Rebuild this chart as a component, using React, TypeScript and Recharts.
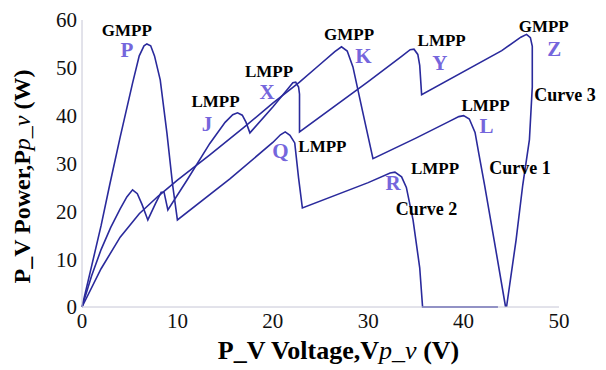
import {
  ComposedChart,
  Line,
  Scatter,
  XAxis,
  YAxis,
} from "recharts";

// [voltage, power] points
const curve1: [number, number][] = [
  [0, 0], [2, 8], [4, 14.6], [6, 19.5], [8, 23.2], [10, 26.5], [13.4, 31.8],
  [17, 37.6], [20, 42.6], [22.8, 47], [25, 50.8], [26.5, 53.4], [27.2, 54.4],
  [27.8, 53.5], [28.4, 50.2], [29.4, 41], [30.5, 31], [35, 35.3], [38.5, 38.8],
  [39.5, 39.8], [40, 40], [40.6, 39.3], [41.2, 36.5], [41.6, 32], [42.2, 25.5],
  [43.2, 14], [44.4, 0],
];

const curve2: [number, number][] = [
  [0, 0], [1, 8.5], [2, 17], [2.9, 25.5], [4, 35.5], [5.3, 46.8], [6, 52.5],
  [6.5, 54.6], [6.8, 55], [7.2, 54.6], [7.6, 52.5], [8.2, 47.5], [8.9, 36.4],
  [9.5, 25.5], [10, 18.2], [15.5, 26.8], [20, 34.4], [20.8, 36], [21.3, 36.6],
  [21.8, 35.9], [22.3, 34.3], [22.7, 27], [23.1, 20.7], [30, 26], [32.3, 28],
  [32.8, 28.2], [33.5, 27.2], [34, 25], [34.7, 18.2], [35.4, 8.2], [35.7, 0],
  [43.6, 0],
];

const curve3: [number, number][] = [
  [0, 0], [1, 6.5], [2, 12], [3, 16.6], [4, 20.5], [4.7, 23], [5.3, 24.5],
  [5.8, 23.7], [6.3, 21.4], [6.9, 18.2], [7.7, 21.6], [8.3, 24], [8.6, 24],
  [9, 20.3], [11, 26.5], [13.4, 34.2], [15, 38.6], [15.8, 40.2], [16.3, 40.6],
  [16.8, 40.1], [17.2, 38.6], [17.6, 36.4], [20, 41.8], [21.5, 45.4],
  [22.1, 46.9], [22.4, 47], [22.7, 46], [22.8, 44.5], [22.8, 36.6], [30, 47.1],
  [33.5, 52.4], [34.4, 53.8], [34.8, 53.9], [35.2, 52.8], [35.4, 50.5],
  [35.6, 44.4], [44, 53.6], [46, 56.4], [46.6, 57], [47, 56.3], [47.2, 54.5],
  [47.2, 46], [46.9, 35], [46.2, 25.5], [45.5, 14], [44.5, 0],
];

const xTicks = [0, 10, 20, 30, 40, 50];
const yTicks = [0, 10, 20, 30, 40, 50, 60];

// annotations: text placed at [voltage, power]
const mppNotes = [
  { v: 4.7, w: 57.9, text: "GMPP" },
  { v: 14.0, w: 42.9, text: "LMPP" },
  { v: 19.6, w: 49.3, text: "LMPP" },
  { v: 28.0, w: 56.9, text: "GMPP" },
  { v: 37.7, w: 55.8, text: "LMPP" },
  { v: 48.4, w: 58.7, text: "GMPP" },
  { v: 42.3, w: 42.2, text: "LMPP" },
  { v: 25.2, w: 33.5, text: "LMPP" },
  { v: 37.0, w: 28.9, text: "LMPP" },
];

const pointNames = [
  { v: 4.7, w: 53.7, text: "P" },
  { v: 13.1, w: 38.2, text: "J" },
  { v: 19.4, w: 44.9, text: "X" },
  { v: 29.5, w: 52.4, text: "K" },
  { v: 37.5, w: 51.0, text: "Y" },
  { v: 49.5, w: 53.9, text: "Z" },
  { v: 42.4, w: 37.8, text: "L" },
  { v: 20.8, w: 32.6, text: "Q" },
  { v: 32.6, w: 26.0, text: "R" },
];

const curveNames = [
  { v: 47.4, w: 44.4, text: "Curve 3" },
  { v: 42.7, w: 29.1, text: "Curve 1" },
  { v: 32.9, w: 20.5, text: "Curve 2" },
];

const toRows = (pts: [number, number][]) => pts.map(([v, w]) => ({ v, w }));

const SERIF = "'Liberation Serif', 'Times New Roman', serif";
const LINE = "#2a2a9c";
const PURPLE = "#7566dc";
const AXIS = "#c6c6d6";

function noteShape(size: number, color: string, anchor: "middle" | "start") {
  return (props: any) => (
    <text
      x={props.cx}
      y={props.cy}
      textAnchor={anchor}
      dominantBaseline="central"
      fontFamily={SERIF}
      fontWeight="bold"
      fontSize={size}
      fill={color}
    >
      {props.payload.text}
    </text>
  );
}

function XTitle({ viewBox }: any) {
  const { x, y, width } = viewBox;
  return (
    <text
      x={x + width / 2 + 18}
      y={y + 52}
      textAnchor="middle"
      fontFamily={SERIF}
      fontWeight="bold"
      fontSize={26}
      fill="#000"
    >
      P_V Voltage,V<tspan fontStyle="italic" fontWeight="normal">p_v</tspan> (V)
    </text>
  );
}

function YTitle({ viewBox }: any) {
  const { y, height } = viewBox;
  const cx = 22;
  const cy = y + height / 2 + 13;
  return (
    <text
      x={cx}
      y={cy}
      transform={`rotate(-90 ${cx} ${cy})`}
      textAnchor="middle"
      dominantBaseline="central"
      fontFamily={SERIF}
      fontWeight="bold"
      fontSize={24}
      fill="#000"
    >
      P_V Power,P<tspan fontStyle="italic" fontWeight="normal">p_v</tspan> (W)
    </text>
  );
}

export default function App() {
  const tickStyle = { fontFamily: SERIF, fontSize: 21, fill: "#111" };
  return (
    <div style={{ position: "absolute", left: 0, top: 0, background: "#fff" }}>
      <ComposedChart
        width={606}
        height={370}
        margin={{ top: 20, right: 47, bottom: 0, left: 0 }}
      >
        <XAxis
          type="number"
          dataKey="v"
          domain={[0, 50]}
          ticks={xTicks}
          height={63}
          stroke={AXIS}
          tickLine={false}
          tickSize={3}
          tickMargin={3}
          tick={tickStyle}
          label={<XTitle />}
        />
        <YAxis
          type="number"
          dataKey="w"
          domain={[0, 60]}
          ticks={yTicks}
          width={82}
          stroke={AXIS}
          tickLine={false}
          tickSize={2}
          tickMargin={3}
          tick={tickStyle}
          label={<YTitle />}
        />
        <Line data={toRows(curve1)} dataKey="w" type="linear" stroke={LINE} strokeWidth={1.6} dot={false} isAnimationActive={false} />
        <Line data={toRows(curve2)} dataKey="w" type="linear" stroke={LINE} strokeWidth={1.6} dot={false} isAnimationActive={false} />
        <Line data={toRows(curve3)} dataKey="w" type="linear" stroke={LINE} strokeWidth={1.6} dot={false} isAnimationActive={false} />
        <Scatter data={mppNotes} dataKey="w" shape={noteShape(17, "#000", "middle")} isAnimationActive={false} />
        <Scatter data={pointNames} dataKey="w" shape={noteShape(21, PURPLE, "middle")} isAnimationActive={false} />
        <Scatter data={curveNames} dataKey="w" shape={noteShape(18, "#000", "start")} isAnimationActive={false} />
      </ComposedChart>
    </div>
  );
}
